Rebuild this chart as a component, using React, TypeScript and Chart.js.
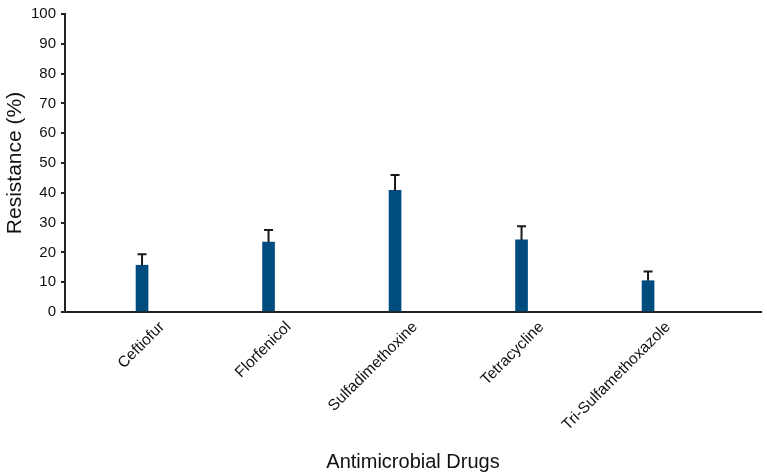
import React, { useEffect, useRef } from "react";
import { Chart, registerables } from "chart.js";

Chart.register(...registerables);

// Drugs tested and their resistance rates (%), with the upper error margin
const drugs = [
  "Ceftiofur",
  "Florfenicol",
  "Sulfadimethoxine",
  "Tetracycline",
  "Tri-Sulfamethoxazole",
];
const resistance = [15.7, 23.5, 40.8, 24.2, 10.5];
const errorUp = [3.7, 4.0, 5.2, 4.6, 3.1];

const BAR_COLOR = "#004c7e";
const AXIS_COLOR = "#222222";
const FONT = "'Liberation Sans', Arial, sans-serif";

// Draws the upper-only error whiskers with a cap above each bar
const errorBarPlugin = {
  id: "errorBars",
  afterDatasetsDraw(chart: any) {
    const meta = chart.getDatasetMeta(0);
    const yScale = chart.scales.y;
    const ctx = chart.ctx;
    ctx.save();
    ctx.strokeStyle = "#1a1a1a";
    ctx.lineWidth = 2;
    meta.data.forEach((bar: any, i: number) => {
      const top = yScale.getPixelForValue(resistance[i] + errorUp[i]);
      ctx.beginPath();
      ctx.moveTo(bar.x, bar.y);
      ctx.lineTo(bar.x, top);
      ctx.moveTo(bar.x - 4.5, top);
      ctx.lineTo(bar.x + 4.5, top);
      ctx.stroke();
    });
    ctx.restore();
  },
};

export default function App() {
  const ref = useRef<HTMLCanvasElement>(null);

  useEffect(() => {
    if (!ref.current) return;
    const chart = new Chart(ref.current, {
      type: "bar",
      data: {
        datasets: [
          {
            data: resistance.map((v, i) => ({ x: i, y: v })),
            backgroundColor: BAR_COLOR,
            borderWidth: 0,
            barThickness: 12,
          },
        ],
      },
      options: {
        responsive: false,
        animation: false,
        layout: { padding: { top: 11, right: 6, left: 0, bottom: 0 } },
        plugins: {
          legend: { display: false },
          tooltip: { enabled: false },
        },
        scales: {
          x: {
            type: "linear",
            offset: false,
            min: -0.609,
            max: 4.893,
            afterBuildTicks: (scale: any) => {
              scale.ticks = drugs.map((_, i) => ({ value: i }));
            },
            afterFit: (scale: any) => {
              scale.height = 164;
            },
            grid: { display: true, drawOnChartArea: false, drawTicks: false },
            border: { display: true, color: AXIS_COLOR, width: 2 },
            ticks: {
              autoSkip: false,
              minRotation: 45,
              maxRotation: 45,
              padding: 6,
              labelOffset: 20,
              color: "#111",
              font: { family: FONT, size: 15.5 },
              callback: (v: any) => drugs[v] ?? "",
            },
            title: {
              display: true,
              text: "Antimicrobial Drugs",
              color: "#111",
              font: { family: FONT, size: 20 },
              padding: { top: 0, bottom: 2 },
            },
          },
          y: {
            min: 0,
            max: 100,
            afterFit: (scale: any) => {
              scale.width = 65;
            },
            grid: {
              display: true,
              drawOnChartArea: false,
              drawTicks: true,
              tickLength: 4,
              color: AXIS_COLOR,
              lineWidth: 2,
            },
            border: { display: true, color: AXIS_COLOR, width: 2 },
            ticks: {
              stepSize: 10,
              padding: 5,
              color: "#111",
              font: { family: FONT, size: 15 },
            },
            title: {
              display: true,
              text: "Resistance (%)",
              color: "#111",
              font: { family: FONT, size: 21 },
              padding: { top: 3, bottom: 0 },
            },
          },
        },
      },
      plugins: [errorBarPlugin],
    } as any);
    return () => chart.destroy();
  }, []);

  return (
    <div style={{ position: "absolute", left: 0, top: 0, width: 767, height: 476, background: "#fff" }}>
      <canvas ref={ref} width={767} height={476} />
    </div>
  );
}
